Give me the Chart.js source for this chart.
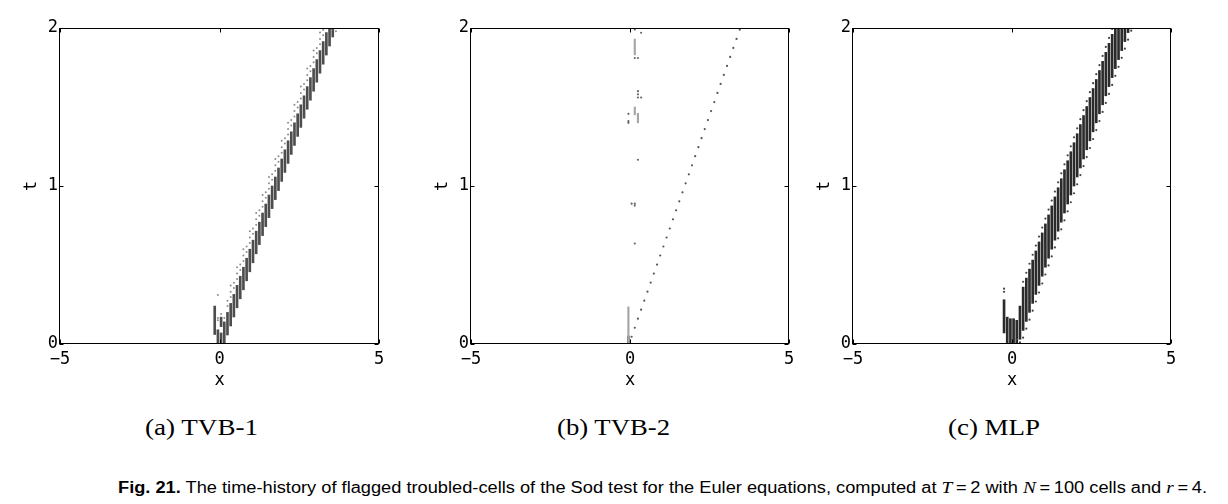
<!DOCTYPE html>
<html>
<head>
<meta charset="utf-8">
<script src="https://cdn.jsdelivr.net/npm/chart.js@4.4.1/dist/chart.umd.min.js"></script>
<style>
  html, body { margin: 0; padding: 0; background: #fff; }
  body { width: 1228px; height: 504px; position: relative; overflow: hidden; }
  canvas { position: absolute; top: 0; }
  .cap { position: absolute; white-space: nowrap; transform-origin: 0 0; color: #000; }
  .sub { font-family: "Liberation Serif", serif; font-size: 23px; line-height: 23px; top: 416px; }
  .fig { font-family: "Liberation Sans", sans-serif; font-size: 16px; line-height: 16px; top: 480px; left: 118px; }
  .fig i { font-family: "Liberation Serif", serif; font-size: 17px; }
</style>
</head>
<body>
<canvas id="c1" width="399" height="400" style="left:0px"></canvas>
<canvas id="c2" width="398" height="400" style="left:411px"></canvas>
<canvas id="c3" width="398" height="400" style="left:793px"></canvas>
<div class="cap sub" id="capA" data-w="113" style="left:145px">(a) TVB-1</div>
<div class="cap sub" id="capB" data-w="113" style="left:557px">(b) TVB-2</div>
<div class="cap sub" id="capC" data-w="92" style="left:948px">(c) MLP</div>
<div class="cap fig" id="capF" data-w="1089"><b>Fig. 21.</b> The time-history of flagged troubled-cells of the Sod test for the Euler equations, computed at <i>T</i>&thinsp;=&thinsp;2 with <i>N</i>&thinsp;=&thinsp;100 cells and <i>r</i>&thinsp;=&thinsp;4.</div>
<script>
// ---------------- data (x = cell centre, t0/t1 = flagged time interval) ----------------
const panelTitles = ["(a) TVB-1", "(b) TVB-2", "(c) MLP"];
const xTicks = [-5, 0, 5];
const tTicks = [0, 1, 2];

// (a) TVB-1 : streaks [x, t0, t1] and isolated flags [x, t]
const tvb1Streaks = [
  [-0.15, 0.06, 0.24], [-0.05, 0.00, 0.09], [0.05, 0.00, 0.07], [0.05, 0.11, 0.17],
  [0.15, 0.00, 0.14], [0.25, 0.057, 0.20], [0.35, 0.114, 0.257], [0.45, 0.171, 0.314],
  [0.55, 0.229, 0.371], [0.65, 0.286, 0.429], [0.75, 0.343, 0.486], [0.85, 0.40, 0.543],
  [0.95, 0.457, 0.60], [1.05, 0.514, 0.657], [1.15, 0.571, 0.714], [1.25, 0.629, 0.771],
  [1.35, 0.686, 0.829], [1.45, 0.743, 0.886], [1.55, 0.80, 0.943], [1.65, 0.857, 1.0],
  [1.75, 0.914, 1.057], [1.85, 0.971, 1.114], [1.95, 1.029, 1.171], [2.05, 1.086, 1.229],
  [2.15, 1.143, 1.286], [2.25, 1.20, 1.343], [2.35, 1.257, 1.40], [2.45, 1.314, 1.457],
  [2.55, 1.371, 1.514], [2.65, 1.429, 1.571], [2.75, 1.486, 1.629], [2.85, 1.543, 1.686],
  [2.95, 1.60, 1.743], [3.05, 1.657, 1.80], [3.15, 1.714, 1.857], [3.25, 1.771, 1.914],
  [3.35, 1.829, 1.971], [3.45, 1.886, 2.0], [3.55, 1.943, 2.0]
];
const tvb1Dots = [
  [-0.05, 0.31], [-0.05, 0.15], [-0.05, 0.165], [0.05, 0.19], [0.15, 0.165],
  [0.25, 0.24], [0.25, 0.274], [0.35, 0.297], [0.35, 0.331], [0.35, 0.371],
  [0.45, 0.354], [0.45, 0.388], [0.55, 0.411], [0.55, 0.446], [0.55, 0.486],
  [0.65, 0.469], [0.65, 0.503], [0.75, 0.526], [0.75, 0.56], [0.75, 0.60],
  [0.85, 0.583], [0.85, 0.617], [0.95, 0.64], [0.95, 0.674], [0.95, 0.714],
  [1.05, 0.697], [1.05, 0.731], [1.15, 0.754], [1.15, 0.789], [1.15, 0.829],
  [1.25, 0.811], [1.25, 0.846], [1.35, 0.869], [1.35, 0.903], [1.35, 0.943],
  [1.45, 0.926], [1.45, 0.96], [1.55, 0.983], [1.55, 1.017], [1.55, 1.057],
  [1.65, 1.04], [1.65, 1.074], [1.75, 1.097], [1.75, 1.131], [1.75, 1.171],
  [1.85, 1.154], [1.85, 1.189], [1.95, 1.211], [1.95, 1.246], [1.95, 1.286],
  [2.05, 1.269], [2.05, 1.303], [2.15, 1.326], [2.15, 1.36], [2.15, 1.40],
  [2.25, 1.383], [2.25, 1.417], [2.35, 1.44], [2.35, 1.474], [2.35, 1.514],
  [2.45, 1.497], [2.45, 1.531], [2.55, 1.554], [2.55, 1.589], [2.55, 1.629],
  [2.65, 1.611], [2.65, 1.646], [2.75, 1.669], [2.75, 1.703], [2.75, 1.743],
  [2.85, 1.726], [2.85, 1.76], [2.95, 1.783], [2.95, 1.817], [2.95, 1.857],
  [3.05, 1.84], [3.05, 1.874], [3.15, 1.897], [3.15, 1.931], [3.15, 1.971],
  [3.25, 1.954], [3.25, 1.989], [3.65, 1.98]
];

// (b) TVB-2
const tvb2Streaks = [[-0.05, 0.00, 0.05]];
const tvb2FaintStreaks = [[-0.05, 0.00, 0.235], [0.15, 1.45, 1.50], [0.25, 1.40, 1.46], [0.15, 1.83, 1.93]];
const tvb2ShockDots = [
  [0.05, 0.046], [0.15, 0.103], [0.25, 0.160], [0.35, 0.217], [0.45, 0.274], [0.55, 0.331],
  [0.65, 0.389], [0.75, 0.446], [0.85, 0.503], [0.95, 0.560], [1.05, 0.617], [1.15, 0.674],
  [1.25, 0.731], [1.35, 0.789], [1.45, 0.846], [1.55, 0.903], [1.65, 0.960], [1.75, 1.017],
  [1.85, 1.074], [1.95, 1.131], [2.05, 1.189], [2.15, 1.246], [2.25, 1.303], [2.35, 1.360],
  [2.45, 1.417], [2.55, 1.474], [2.65, 1.531], [2.75, 1.589], [2.85, 1.646], [2.95, 1.703],
  [3.05, 1.760], [3.15, 1.817], [3.25, 1.874], [3.35, 1.931], [3.45, 1.989]
];
const tvb2Dots = [
  [-0.05, 1.457], [-0.05, 1.41], [-0.05, 1.40], [0.25, 1.60], [0.25, 1.58], [0.25, 1.56],
  [0.35, 1.56], [0.25, 1.166], [0.05, 0.888], [0.15, 0.888], [0.15, 0.876], [0.15, 0.636],
  [0.15, 1.81], [0.25, 1.81], [0.15, 1.99], [0.35, 1.97]
];

// (c) MLP
const mlpStreaks = [
  [-0.25, 0.07, 0.28], [-0.15, 0.00, 0.17], [-0.05, 0.00, 0.16], [0.05, 0.00, 0.16],
  [0.15, 0.00, 0.15], [0.25, 0.03, 0.24], [0.35, 0.086, 0.36], [0.45, 0.143, 0.417],
  [0.55, 0.20, 0.474], [0.65, 0.257, 0.531], [0.75, 0.314, 0.589], [0.85, 0.371, 0.646],
  [0.95, 0.429, 0.703], [1.05, 0.486, 0.76], [1.15, 0.543, 0.817], [1.25, 0.60, 0.874],
  [1.35, 0.657, 0.931], [1.45, 0.714, 0.989], [1.55, 0.771, 1.046], [1.65, 0.829, 1.103],
  [1.75, 0.886, 1.16], [1.85, 0.943, 1.217], [1.95, 1.0, 1.274], [2.05, 1.057, 1.331],
  [2.15, 1.114, 1.389], [2.25, 1.171, 1.446], [2.35, 1.229, 1.503], [2.45, 1.286, 1.56],
  [2.55, 1.343, 1.617], [2.65, 1.40, 1.674], [2.75, 1.457, 1.731], [2.85, 1.514, 1.789],
  [2.95, 1.571, 1.846], [3.05, 1.629, 1.903], [3.15, 1.686, 1.96], [3.25, 1.743, 2.0],
  [3.35, 1.80, 2.0], [3.45, 1.857, 2.0], [3.55, 1.914, 2.0], [3.65, 1.971, 2.0]
];
const mlpDots = [
  [-0.25, 0.35], [-0.25, 0.33], [0.15, 0.03], [0.25, 0.01],
  [0.35, 0.040], [0.45, 0.097], [0.55, 0.154], [0.65, 0.211], [0.75, 0.269], [0.85, 0.326],
  [0.95, 0.383], [1.05, 0.440], [1.15, 0.497], [1.25, 0.554], [1.35, 0.611], [1.45, 0.669],
  [1.55, 0.726], [1.65, 0.783], [1.75, 0.840], [1.85, 0.897], [1.95, 0.954], [2.05, 1.011],
  [2.15, 1.069], [2.25, 1.126], [2.35, 1.183], [2.45, 1.240], [2.55, 1.297], [2.65, 1.354],
  [2.75, 1.411], [2.85, 1.469], [2.95, 1.526], [3.05, 1.583], [3.15, 1.640], [3.25, 1.697],
  [3.35, 1.754], [3.45, 1.811], [3.55, 1.869], [3.65, 1.926], [3.75, 1.983],
  [0.35, 0.394], [0.45, 0.451], [0.55, 0.508], [0.65, 0.565], [0.75, 0.623], [0.85, 0.68],
  [0.95, 0.737], [1.05, 0.794], [1.15, 0.851], [1.25, 0.908], [1.35, 0.965], [1.45, 1.023],
  [1.55, 1.08], [1.65, 1.137], [1.75, 1.194], [1.85, 1.251], [1.95, 1.308], [2.05, 1.365],
  [2.15, 1.423], [2.25, 1.48], [2.35, 1.537], [2.45, 1.594], [2.55, 1.651], [2.65, 1.708],
  [2.75, 1.765], [2.85, 1.823], [2.95, 1.88], [3.05, 1.937], [3.15, 1.994]
];

// ---------------- helpers ----------------
const toBars = arr => arr.map(([x, a, b]) => ({ x: x, y: [a, b] }));
const toPts = arr => arr.map(([x, t]) => ({ x: x, y: t }));

const framePlugin = {
  id: 'mplFrame',
  afterDatasetsDraw(chart) {
    const { ctx, chartArea: a, scales } = chart;
    const L = Math.round(a.left) - 0.5, R = Math.round(a.right) - 0.5;
    const T = Math.round(a.top) + 0.5, B = Math.round(a.bottom) - 0.5;
    ctx.save();
    ctx.strokeStyle = '#000';
    ctx.lineWidth = 1;
    ctx.strokeRect(L, T, R - L, B - T);
    ctx.beginPath();
    const tl = 4;
    scales.x.ticks.forEach(tk => {
      const p = Math.round(scales.x.getPixelForValue(tk.value)) + 0.5;
      ctx.moveTo(p, B); ctx.lineTo(p, B - tl);
      ctx.moveTo(p, T); ctx.lineTo(p, T + tl);
    });
    scales.y.ticks.forEach(tk => {
      const p = Math.round(scales.y.getPixelForValue(tk.value)) + 0.5;
      ctx.moveTo(L, p); ctx.lineTo(L + tl, p);
      ctx.moveTo(R, p); ctx.lineTo(R - tl, p);
    });
    ctx.stroke();
    ctx.restore();
  }
};

const monoFont = { family: 'DejaVu Sans Mono', size: 17 };
const fmt = v => (v < 0 ? '\u2212' + Math.abs(v) : String(v));

function makeChart(id, datasets) {
  return new Chart(document.getElementById(id), {
    type: 'bar',
    data: { datasets: datasets },
    plugins: [framePlugin],
    options: {
      responsive: false,
      animation: false,
      devicePixelRatio: 1,
      events: [],
      layout: { padding: { left: 0, top: 28, right: 20, bottom: 0 } },
      plugins: { legend: { display: false }, tooltip: { enabled: false } },
      scales: {
        x: {
          type: 'linear', min: xTicks[0], max: xTicks[xTicks.length - 1], offset: false,
          grid: { display: false, drawTicks: false }, border: { display: false },
          afterBuildTicks: s => { s.ticks = xTicks.map(v => ({ value: v })); },
          ticks: { font: monoFont, color: '#000', padding: 5, callback: fmt, maxRotation: 0 },
          title: { display: true, text: 'x', font: monoFont, color: '#000', padding: { top: 0, bottom: 9 } },
          afterFit: s => { s.height = 56; }
        },
        y: {
          type: 'linear', min: tTicks[0], max: tTicks[tTicks.length - 1],
          grid: { display: false, drawTicks: false }, border: { display: false },
          afterBuildTicks: s => { s.ticks = tTicks.map(v => ({ value: v })); },
          ticks: { font: monoFont, color: '#000', padding: 2, callback: fmt },
          title: { display: true, text: 't', font: monoFont, color: '#000', padding: { top: 21, bottom: 0 } },
          afterFit: s => { s.width = 60; }
        }
      }
    }
  });
}

const barDs = (arr, color, w) => ({ type: 'bar', data: toBars(arr), backgroundColor: color, borderWidth: 0, barThickness: w, grouped: false, order: 2 });
const dotDs = (arr, color, r) => ({ type: 'scatter', data: toPts(arr), backgroundColor: color, borderWidth: 0, pointRadius: r, pointStyle: 'circle', order: 1 });

makeChart('c1', [
  barDs(tvb1Streaks, '#4d4d4d', 2),
  dotDs(tvb1Dots, '#8c8c8c', 1)
]);
makeChart('c2', [
  barDs(tvb2FaintStreaks, '#a6a6a6', 1.5),
  barDs(tvb2Streaks, '#555555', 2),
  dotDs(tvb2ShockDots, '#555555', 1.1),
  dotDs(tvb2Dots, '#666666', 1.1)
]);
makeChart('c3', [
  barDs(mlpStreaks, '#2b2b2b', 2),
  dotDs(mlpDots, '#444444', 1.1)
]);

function fitCaptions() {
  document.querySelectorAll('.cap').forEach(el => {
    const target = parseFloat(el.dataset.w);
    el.style.transform = 'none';
    const w = el.getBoundingClientRect().width;
    if (w > 0) el.style.transform = 'scaleX(' + (target / w).toFixed(4) + ')';
  });
}
fitCaptions();
if (document.fonts && document.fonts.ready) document.fonts.ready.then(fitCaptions);
</script>
</body>
</html>
